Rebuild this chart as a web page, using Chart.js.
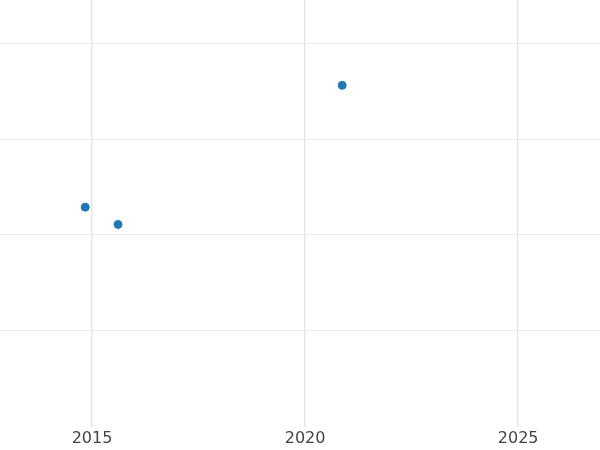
<!DOCTYPE html>
<html>
<head>
<meta charset="utf-8">
<script src="https://cdn.jsdelivr.net/npm/chart.js@4"></script>
<style>
  body { margin: 0; background: #fff; }
  #wrap { width: 600px; height: 450px; }
</style>
</head>
<body>
<div id="wrap"><canvas id="chart"></canvas></div>
<script>
const years = [2014.84, 2015.61, 2020.87]
const values = [2.29, 2.11, 3.56]
const xTicks = [2015, 2020, 2025]
const yTicks = [1, 2, 3, 4]

const points = years.map((x, i) => ({x: x, y: values[i]}))

new Chart(document.getElementById('chart'), {
    type: 'scatter',
    data: {
        datasets: [{
            data: points,
            backgroundColor: '#1f77b4',
            borderColor: '#1f77b4',
            pointRadius: 4,
            pointHoverRadius: 4
        }]
    },
    options: {
        responsive: true,
        maintainAspectRatio: false,
        animation: false,
        layout: {padding: 0, autoPadding: false},
        plugins: {legend: {display: false}, tooltip: {enabled: false}},
        scales: {
            x: {
                type: 'linear',
                min: 2012.84,
                max: 2026.92,
                afterBuildTicks: axis => { axis.ticks = xTicks.map(v => ({value: v})) },
                grid: {color: '#e6e6e6', lineWidth: 1.5, drawTicks: false},
                border: {display: false},
                ticks: {color: '#444', font: {family: 'DejaVu Sans', size: 16}, padding: 2,
                        callback: v => String(v)}
            },
            y: {
                min: 0,
                max: 4.45,
                afterBuildTicks: axis => { axis.ticks = yTicks.map(v => ({value: v})) },
                grid: {color: '#ebebeb', lineWidth: 1, drawTicks: false},
                border: {display: false},
                ticks: {display: false}
            }
        }
    }
});
</script>
</body>
</html>
